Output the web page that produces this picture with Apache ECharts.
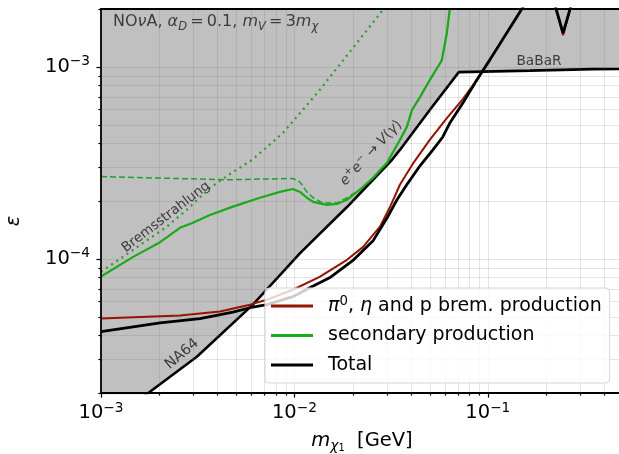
<!DOCTYPE html>
<html><head><meta charset="utf-8">
<script src="https://cdn.jsdelivr.net/npm/echarts@6/dist/echarts.min.js"></script>
<style>html,body{margin:0;padding:0;background:#fff}#c{width:619px;height:454px}</style>
</head><body><div id="c"></div>
<script>
// ---------------- data ----------------
// excluded-region boundary: NA64 curve joined to the BaBaR plateau
const boundMass = [1.0e-3, 1.77e-3, 3.13e-3, 6.10e-3, 1.07e-2, 1.87e-2, 3.19e-2, 3.51e-2, 5.01e-2, 7.08e-2, 0.165, 0.349, 0.5];
const boundEps  = [1.31e-5, 2.01e-5, 3.09e-5, 5.77e-5, 1.07e-4, 1.86e-4, 3.27e-4, 3.69e-4, 5.96e-4, 9.38e-4, 9.55e-4, 9.73e-4, 9.75e-4];

// secondary production (solid green)
const secMass = [1.0e-3, 1.46e-3, 2.02e-3, 2.56e-3, 2.99e-3, 3.66e-3, 4.81e-3, 6.63e-3, 8.42e-3, 9.82e-3, 1.07e-2, 1.16e-2, 1.25e-2, 1.47e-2, 1.66e-2, 1.87e-2, 2.18e-2, 2.55e-2, 3.01e-2, 3.51e-2, 3.81e-2, 4.05e-2, 4.46e-2, 5.01e-2, 5.78e-2, 6.14e-2, 6.36e-2, 6.5e-2];
const secEps  = [8.09e-5, 1.02e-4, 1.22e-4, 1.45e-4, 1.54e-4, 1.69e-4, 1.87e-4, 2.08e-4, 2.23e-4, 2.31e-4, 2.23e-4, 2.08e-4, 1.98e-4, 1.91e-4, 1.93e-4, 2.03e-4, 2.29e-4, 2.64e-4, 3.16e-4, 4.16e-4, 4.85e-4, 5.94e-4, 6.95e-4, 8.53e-4, 1.08e-3, 1.50e-3, 2.0e-3, 2.4e-3];

// e+e- -> V(gamma) component (dashed green)
const annMass = [1.0e-3, 4.48e-3, 9.82e-3, 1.07e-2, 1.16e-2, 1.25e-2, 1.40e-2, 1.66e-2, 1.87e-2, 2.18e-2, 2.55e-2, 3.01e-2, 3.51e-2, 3.81e-2, 4.05e-2, 4.46e-2, 5.01e-2, 5.78e-2, 6.14e-2, 6.36e-2, 6.5e-2];
const annEps  = [2.68e-4, 2.58e-4, 2.62e-4, 2.51e-4, 2.23e-4, 2.08e-4, 1.95e-4, 1.95e-4, 2.08e-4, 2.29e-4, 2.64e-4, 3.16e-4, 4.16e-4, 4.85e-4, 5.94e-4, 6.95e-4, 8.53e-4, 1.08e-3, 1.50e-3, 2.0e-3, 2.4e-3];

// Bremsstrahlung component (dotted green)
const bremMass = [1.0e-3, 1.46e-3, 2.19e-3, 2.78e-3, 3.66e-3, 4.81e-3, 6.03e-3, 8.73e-3, 1.35e-2, 2.86e-2, 3.2e-2];
const bremEps  = [8.55e-5, 1.11e-4, 1.47e-4, 1.80e-4, 2.34e-4, 2.83e-4, 3.27e-4, 4.52e-4, 7.56e-4, 1.97e-3, 2.3e-3];

// pi0, eta and p brem. production (dark red)
const mesonMass = [1.0e-3, 2.56e-3, 4.12e-3, 5.89e-3, 7.21e-3, 9.82e-3, 1.35e-2, 1.87e-2, 2.26e-2, 2.77e-2, 3.12e-2, 3.51e-2, 4.09e-2, 5.01e-2, 6.14e-2, 7.43e-2, 8.77e-2, 0.102, 0.146, 0.165, null, 0.215, 0.245, 0.279];
const mesonEps  = [4.88e-5, 5.06e-5, 5.32e-5, 5.77e-5, 6.12e-5, 6.90e-5, 8.05e-5, 9.88e-5, 1.15e-4, 1.47e-4, 1.86e-4, 2.43e-4, 3.12e-4, 4.16e-4, 5.41e-4, 6.79e-4, 8.53e-4, 1.08e-3, 1.92e-3, 2.33e-3, null, 2.36e-3, 1.46e-3, 2.36e-3];

// Total (black)
const totalMass = [1.0e-3, 2.02e-3, 3.25e-3, 4.81e-3, 5.89e-3, 7.21e-3, 9.82e-3, 1.20e-2, 1.52e-2, 2.00e-2, 2.55e-2, 3.01e-2, 3.39e-2, 3.81e-2, 4.46e-2, 5.20e-2, 5.85e-2, 6.36e-2, 7.43e-2, 8.77e-2, 0.102, 0.146, 0.165, null, 0.215, 0.245, 0.279];
const totalEps  = [4.17e-5, 4.64e-5, 4.88e-5, 5.27e-5, 5.56e-5, 5.77e-5, 6.35e-5, 7.06e-5, 7.96e-5, 9.77e-5, 1.24e-4, 1.63e-4, 2.03e-4, 2.43e-4, 3.05e-4, 3.69e-4, 4.31e-4, 5.09e-4, 6.47e-4, 8.53e-4, 1.08e-3, 1.92e-3, 2.33e-3, null, 2.36e-3, 1.50e-3, 2.36e-3];

// axes / ticks
const X_MIN = 1e-3, X_MAX = 0.5, Y_MIN = 2e-5, Y_MAX = 2e-3;
const xMajorTicks = [1e-3, 1e-2, 1e-1];
const xTickExps   = ['\u22123', '\u22122', '\u22121'];
const xMinorTicks = [2e-3,3e-3,4e-3,5e-3,6e-3,7e-3,8e-3,9e-3, 2e-2,3e-2,4e-2,5e-2,6e-2,7e-2,8e-2,9e-2, 2e-1,3e-1,4e-1,5e-1];
const yMajorTicks = [1e-4, 1e-3];
const yTickExps   = ['\u22124', '\u22123'];
const yMinorTicks = [2e-5,3e-5,4e-5,5e-5,6e-5,7e-5,8e-5,9e-5, 2e-4,3e-4,4e-4,5e-4,6e-4,7e-4,8e-4,9e-4, 2e-3];

const NAME_MESON = 'pi0, eta and p brem. production';
const NAME_SEC = 'secondary production';
const NAME_TOTAL = 'Total';

// ---------------- chart ----------------
const FONT = 'DejaVu Sans';
const GRID_COLOR = 'rgba(110,110,110,0.19)';
const chart = echarts.init(document.getElementById('c'), null, {renderer: 'canvas'});
const pair = (xs, ys) => xs.map((x, i) => (x == null || ys[i] == null) ? ['-', '-'] : [x, ys[i]]);

function expLabel(v, majors, exps) {
  for (let i = 0; i < majors.length; i++) {
    if (Math.abs(Math.log10(v) - Math.log10(majors[i])) < 1e-6) return '{b|10}{s|' + exps[i] + '}';
  }
  return '';
}

function tickSeries(vals, dir, len, withGrid) {
  return {
    type: 'custom', silent: true, z: 2, clip: false,
    data: vals.map(v => dir === 'x' ? [v, Y_MIN] : [X_MIN, v]),
    encode: {x: 0, y: 1},
    renderItem: (params, api) => {
      const cs = params.coordSys;
      const children = [];
      if (dir === 'x') {
        const px = Math.round(api.coord([api.value(0), Y_MIN])[0]) + 0.5;
        if (withGrid && px > cs.x + 1.5 && px < cs.x + cs.width - 1.5)
          children.push({type: 'line', shape: {x1: px, y1: cs.y, x2: px, y2: cs.y + cs.height}, style: {stroke: GRID_COLOR, lineWidth: 1}});
        children.push({type: 'line', shape: {x1: px, y1: cs.y + cs.height, x2: px, y2: cs.y + cs.height + len}, style: {stroke: '#000', lineWidth: 1.2}});
      } else {
        const py = Math.round(api.coord([X_MIN, api.value(1)])[1]) + 0.5;
        if (withGrid && py > cs.y + 1.5 && py < cs.y + cs.height - 1.5)
          children.push({type: 'line', shape: {x1: cs.x, y1: py, x2: cs.x + cs.width, y2: py}, style: {stroke: GRID_COLOR, lineWidth: 1}});
        children.push({type: 'line', shape: {x1: cs.x - len, y1: py, x2: cs.x, y2: py}, style: {stroke: '#000', lineWidth: 1.2}});
      }
      return {type: 'group', children};
    }
  };
}

const labelRich = {
  b: {fontFamily: FONT, fontSize: 19.5, color: '#000', lineHeight: 24},
  s: {fontFamily: FONT, fontSize: 13.7, color: '#000', lineHeight: 14, verticalAlign: 'top'}
};
const LEG_FS = 19;
const txt = (extra) => Object.assign({fontFamily: FONT, fontSize: LEG_FS, color: '#000', lineHeight: 22}, extra || {});

const option = {
  animation: false,
  backgroundColor: '#fff',
  grid: {left: 101, top: 9, width: 522, height: 384, containLabel: false, outerBoundsMode: 'none'},
  xAxis: [{
    type: 'log', logBase: 10, min: X_MIN, max: X_MAX, z: 5,
    axisLine: {show: true, lineStyle: {color: '#000', width: 1.8}},
    axisTick: {show: false}, splitLine: {show: false}, minorTick: {show: false},
    axisLabel: {margin: 8, showMaxLabel: false, formatter: v => expLabel(v, xMajorTicks, xTickExps), rich: labelRich},
    name: '{m|m}{c|\u03c7}{o|1}{t|  [GeV]}', nameLocation: 'middle', nameGap: 36,
    nameTextStyle: {rich: {
      m: {fontFamily: FONT, fontSize: 19.5, fontStyle: 'italic', color: '#000', lineHeight: 24},
      c: {fontFamily: FONT, fontSize: 13.7, fontStyle: 'italic', color: '#000', lineHeight: 14, verticalAlign: 'bottom'},
      o: {fontFamily: FONT, fontSize: 9.8, color: '#000', lineHeight: 8, verticalAlign: 'bottom'},
      t: {fontFamily: FONT, fontSize: 19.5, color: '#000', lineHeight: 24}
    }}
  }, {
    type: 'log', logBase: 10, min: X_MIN, max: X_MAX, position: 'top', z: 5,
    axisLine: {show: true, lineStyle: {color: '#000', width: 1.8}},
    axisTick: {show: false}, axisLabel: {show: false}, splitLine: {show: false}
  }],
  yAxis: {
    type: 'log', logBase: 10, min: Y_MIN, max: Y_MAX, z: 5,
    axisLine: {show: true, lineStyle: {color: '#000', width: 1.8}},
    axisTick: {show: false}, splitLine: {show: false}, minorTick: {show: false},
    axisLabel: {margin: 11, formatter: v => expLabel(v, yMajorTicks, yTickExps), rich: labelRich}
  },
  legend: {
    show: true, orient: 'vertical', left: 265, top: 288, z: 10,
    data: [NAME_MESON, NAME_SEC, NAME_TOTAL],
    icon: 'rect', itemWidth: 42, itemHeight: 3, itemGap: 7.5,
    padding: [7, 8, 7, 6],
    backgroundColor: 'rgba(255,255,255,0.8)', borderColor: '#d4d4d4', borderWidth: 1, borderRadius: 4,
    selectedMode: false,
    formatter: name => name === NAME_MESON
      ? '{i|\u03c0}{sup|0}{t|, }{i|\u03b7}{t| and p brem. production}'
      : '{t|' + name + '}',
    textStyle: Object.assign(txt(), {padding: [0, 0, 0, 10], rich: {
      t: txt(), i: txt({fontStyle: 'italic'}),
      sup: {fontFamily: FONT, fontSize: 13.3, color: '#000', lineHeight: 14, verticalAlign: 'top'}
    }})
  },
  graphic: [
    {type: 'text', x: 14, y: 221, rotation: Math.PI / 2, z: 20,
     style: {text: '\u03b5', fontFamily: FONT, fontSize: 19.5, fontStyle: 'italic', fill: '#000', align: 'center', verticalAlign: 'middle'}},
    {type: 'text', x: 113, y: 22, z: 20,
     style: {text: '{n|NO}{i|\u03bd}{n|A, }{i|\u03b1}{sub|D}{n|\u2009=\u20090.1, }{i|m}{sub|V}{n|\u2009=\u20093}{i|m}{sub|\u03c7}',
       align: 'left', verticalAlign: 'middle',
       rich: {
         n: {fontFamily: FONT, fontSize: 16, fill: '#3c3c3c', lineHeight: 22},
         i: {fontFamily: FONT, fontSize: 16, fontStyle: 'italic', fill: '#3c3c3c', lineHeight: 22},
         sub: {fontFamily: FONT, fontSize: 11.5, fontStyle: 'italic', fill: '#3c3c3c', lineHeight: 12, verticalAlign: 'bottom'}
       }}},
    {type: 'text', x: 166, y: 217, rotation: 37.5 * Math.PI / 180, z: 20,
     style: {text: 'Bremsstrahlung', fontFamily: FONT, fontSize: 13.5, fill: '#3c3c3c', align: 'center', verticalAlign: 'middle'}},
    {type: 'text', x: 182, y: 354, rotation: 40 * Math.PI / 180, z: 20,
     style: {text: 'NA64', fontFamily: FONT, fontSize: 14.5, fill: '#3c3c3c', align: 'center', verticalAlign: 'middle'}},
    {type: 'text', x: 539, y: 61, z: 20,
     style: {text: 'BaBaR', fontFamily: FONT, fontSize: 13.7, fill: '#3c3c3c', align: 'center', verticalAlign: 'middle'}},
    {type: 'text', x: 371, y: 153, rotation: 47 * Math.PI / 180, z: 20,
     style: {text: '{i|e}{sup|+}{i|e}{sup|\u2212}{n| \u2192 }{i|V}{n|(}{i|\u03b3}{n|)}',
       align: 'center', verticalAlign: 'middle',
       rich: {
         n: {fontFamily: FONT, fontSize: 14, fill: '#3c3c3c', lineHeight: 18},
         i: {fontFamily: FONT, fontSize: 14, fontStyle: 'italic', fill: '#3c3c3c', lineHeight: 18},
         sup: {fontFamily: FONT, fontSize: 10, fill: '#3c3c3c', lineHeight: 10, verticalAlign: 'top'}
       }}}
  ],
  series: [
    {name: 'excluded', type: 'line', z: 1, data: pair(boundMass, boundEps), showSymbol: false, clip: true, silent: true,
     lineStyle: {color: '#000', width: 2.6}, areaStyle: {origin: 'end', color: '#c0c0c0', opacity: 1}},
    tickSeries(xMinorTicks, 'x', 2.6, true),
    tickSeries(xMajorTicks, 'x', 4.6, true),
    tickSeries(yMinorTicks, 'y', 2.6, true),
    tickSeries(yMajorTicks, 'y', 4.6, true),
    {name: 'brems', type: 'line', z: 3, data: pair(bremMass, bremEps), showSymbol: false, clip: true, silent: true,
     lineStyle: {color: '#2f9a2a', width: 2.2, type: [2, 4.2]}},
    {name: 'annihilation', type: 'line', z: 3, data: pair(annMass, annEps), showSymbol: false, clip: true, silent: true,
     lineStyle: {color: '#1ea02e', width: 1.5, type: [6, 3]}},
    {name: NAME_SEC, type: 'line', z: 3, data: pair(secMass, secEps), showSymbol: false, clip: true, silent: true,
     color: '#1aaa1a', itemStyle: {color: '#1aaa1a'}, lineStyle: {color: '#1aaa1a', width: 2.2}},
    {name: NAME_MESON, type: 'line', z: 3, data: pair(mesonMass, mesonEps), showSymbol: false, clip: true, silent: true,
     color: '#961400', itemStyle: {color: '#961400'}, lineStyle: {color: '#961400', width: 2}},
    {name: NAME_TOTAL, type: 'line', z: 3, data: pair(totalMass, totalEps), showSymbol: false, clip: true, silent: true,
     color: '#000', itemStyle: {color: '#000'}, lineStyle: {color: '#000', width: 2.8}}
  ]
};
chart.setOption(option);
</script></body></html>
